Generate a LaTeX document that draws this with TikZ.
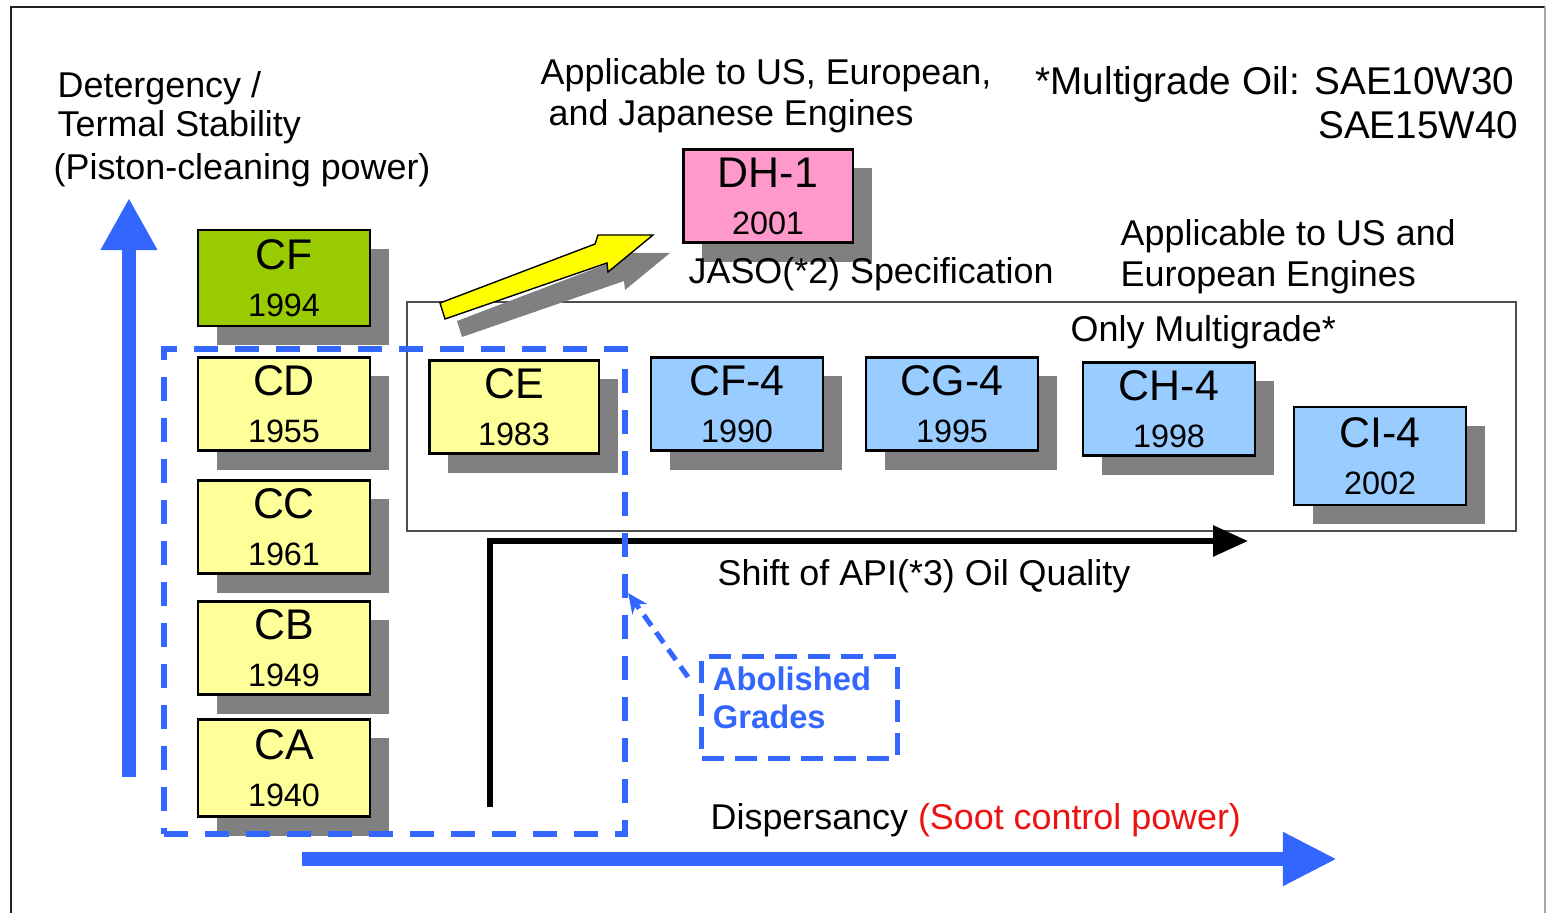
\documentclass[tikz,border=0pt]{standalone}
\usepackage{fontspec}
\setmainfont{Liberation Sans}
\usetikzlibrary{arrows.meta,positioning,calc,shadows}
\definecolor{Frame}{HTML}{222222}
\definecolor{Shade}{HTML}{808080}
\definecolor{OldGrade}{HTML}{FFFF99}
\definecolor{NewGrade}{HTML}{99CCFF}
\definecolor{TopGrade}{HTML}{99CC00}
\definecolor{JasoPink}{HTML}{FF99CC}
\definecolor{AxisBlue}{HTML}{3366FF}
\definecolor{SootRed}{HTML}{EE1111}
\definecolor{ShiftYellow}{HTML}{FFFF00}

\newcommand\gradeyear[1]{{\fontsize{9.2}{11}\selectfont #1}}

\begin{document}
\begin{tikzpicture}[x=0.01cm,y=-0.01cm,
  grade/.style={draw=black,line width=0.6pt,inner sep=0pt,minimum width=1.72cm,minimum height=0.93cm,
    align=center,font=\fontsize{12.2}{13.4}\selectfont,
    drop shadow={shadow xshift=0.19cm,shadow yshift=-0.19cm,fill=Shade,opacity=1}},
  caption/.style={anchor=base west,inner sep=0pt,font=\fontsize{10.2}{11.7}\selectfont},
  axis/.style={AxisBlue,line width=0.14cm,-{Triangle[length=0.52cm,width=0.53cm]}},
  retired/.style={draw=AxisBlue,line width=0.06cm,dash pattern=on 0.24cm off 0.17cm,inner sep=0pt},
  dropped/.style={draw=AxisBlue,line width=0.05cm,dash pattern=on 0.22cm off 0.11cm,inner sep=0pt,
    text=AxisBlue,align=left,font=\bfseries\fontsize{9.3}{10.8}\selectfont}]
\useasboundingbox (0,0) rectangle (1546,913);
\draw[Frame,line width=0.7pt] (11,913) -- (11,7) -- (1545,7);
\draw[Frame!40,line width=0.4pt] (1545,7) -- (1545,913);
\draw[Frame!80,line width=0.4pt] (407,302) rectangle (1516,531);
\fill[Shade,shift={(17,18)}] (440,303) -- (595,244) -- (598,235) -- (653,235) -- (608,272) -- (607,263) -- (445,319) -- cycle;
\filldraw[fill=ShiftYellow,draw=black,line width=0.4pt] (440,303) -- (595,244) -- (598,235) -- (653,235) -- (608,272) -- (607,263) -- (445,319) -- cycle;
\node[grade,fill=TopGrade,minimum height=0.96cm] (cf) at (284,278) {CF\\\gradeyear{1994}};
\node[grade,fill=OldGrade] (cd) at (284,404) {CD\\\gradeyear{1955}};
\node[grade,fill=OldGrade] (cc) at (284,527) {CC\\\gradeyear{1961}};
\node[grade,fill=OldGrade] (cb) at (284,648) {CB\\\gradeyear{1949}};
\node[grade,fill=OldGrade,minimum height=0.97cm] (ca) at (284,768) {CA\\\gradeyear{1940}};
\node[grade,fill=OldGrade,minimum width=1.69cm] (ce) at (514,407) {CE\\\gradeyear{1983}};
\node[grade,fill=NewGrade] (cf4) at (737,404) {CF-4\\\gradeyear{1990}};
\node[grade,fill=NewGrade] (cg4) at (952,404) {CG-4\\\gradeyear{1995}};
\node[grade,fill=NewGrade] (ch4) at (1169,409) {CH-4\\\gradeyear{1998}};
\node[grade,fill=NewGrade,minimum height=0.98cm] (ci4) at (1380,456) {CI-4\\\gradeyear{2002}};
\node[grade,fill=JasoPink,minimum width=1.69cm] (dh1) at (768,196) {DH-1\\\gradeyear{2001}};
\coordinate (shiftfoot) at (490,807);
\coordinate (shifttip) at (1248,541);
\draw[line width=0.06cm,-{Triangle[length=0.35cm,width=0.3cm]}] (shiftfoot) |- (shifttip);
\coordinate (yfoot) at (129,777);
\coordinate (ytop) at (129,198);
\draw[axis] (yfoot) -- (ytop);
\coordinate (xfoot) at (302,859);
\coordinate (xtip) at (1337,859);
\draw[axis,-{Triangle[length=0.54cm,width=0.5cm]}] (xfoot) -- (xtip);
\node[retired,minimum width=4.61cm,minimum height=4.85cm] (old) at (394.5,591.5) {};
\node[dropped,minimum width=1.95cm,minimum height=1.01cm,text width=1.73cm,text depth=0.58cm] (abol) at (799.5,707.5) {Abolished\\Grades};
\coordinate (abtail) at (688,677);
\coordinate (abhead) at (old.east |- 0,593);
\draw[AxisBlue,line width=0.05cm,dash pattern=on 0.13cm off 0.08cm,-{Stealth[length=0.2cm,width=0.18cm]}] (abtail) -- (abhead);
\node[caption] (dete) at (57,98) {Detergency /};
\node[caption] (term) at (57,137) {Termal Stability};
\node[caption] (pist) at (53,180) {(Piston-cleaning power)};
\node[caption] (jap1) at (540,85) {Applicable to US, European,};
\node[caption] (jap2) at (548,126) {and Japanese Engines};
\node[caption,font=\fontsize{11}{13}\selectfont] (multi1) at (1035,95) {*Multigrade Oil: SAE10W30};
\node[caption,anchor=base east,font=\fontsize{11}{13}\selectfont] (multi2) at (1519,139) {SAE15W40};
\node[caption] (useu1) at (1120,246) {Applicable to US and};
\node[caption] (useu2) at (1120,287) {European Engines};
\node[caption] (jaso) at (688,284) {JASO(*2) Specification};
\node[caption] (onlymg) at (1070,342) {Only Multigrade*};
\node[caption] (shiftlbl) at (717,585) {Shift of API(*3) Oil Quality};
\node[caption] (disp) at (710,829) {Dispersancy \textcolor{SootRed}{(Soot control power)}};
\end{tikzpicture}
\end{document}
